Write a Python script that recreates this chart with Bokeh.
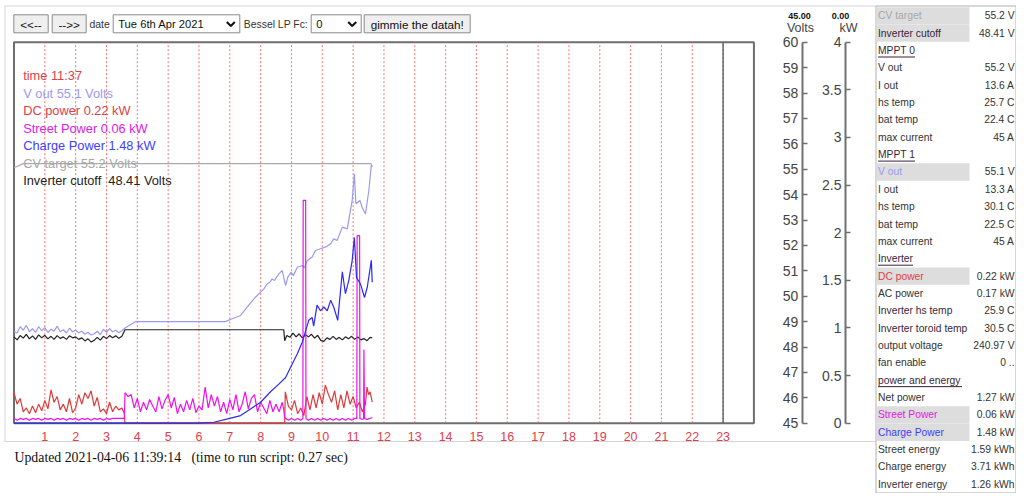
from bokeh.plotting import figure
from bokeh.models import Range1d, LinearAxis, FixedTicker, CustomJSTickFormatter
from bokeh.core.properties import value
from bokeh.embed import file_html
from bokeh.resources import INLINE

# ---------------- data ----------------
HOURS = list(range(1, 24))
VOLT_TICKS = list(range(45, 61))
KW_TICKS = [0, 0.5, 1, 1.5, 2, 2.5, 3, 3.5, 4]
MARKER_HOUR = 23

t_vout = [0.0, 0.1, 0.2, 0.3, 0.4, 0.5, 0.6, 0.7, 0.8, 0.9, 1.0, 1.1, 1.2, 1.3, 1.4, 1.5, 1.6, 1.7,
          1.8, 1.9, 2.0, 2.1, 2.2, 2.3, 2.4, 2.5, 2.6, 2.7, 2.8, 2.9, 3.0, 3.1, 3.2, 3.3, 3.4, 3.5,
          3.6, 3.95, 6.85, 7.08, 7.35, 7.56, 7.83, 8.0, 8.1, 8.21, 8.3, 8.37, 8.45, 8.59, 8.7, 8.81,
          8.88, 8.99, 9.06, 9.19, 9.35, 9.42, 9.51, 9.67, 9.78, 9.94, 10.1, 10.27, 10.37, 10.48,
          10.65, 10.81, 10.97, 11.04, 11.09, 11.22, 11.29, 11.4, 11.51, 11.59, 11.62]
v_out = [48.62, 48.55, 48.80, 48.66, 48.85, 48.60, 48.72, 48.58, 48.80, 48.64, 48.76, 48.57, 48.70,
         48.62, 48.82, 48.60, 48.68, 48.55, 48.74, 48.60, 48.66, 48.56, 48.62, 48.50, 48.58, 48.47,
         48.52, 48.62, 48.48, 48.70, 48.58, 48.72, 48.60, 48.66, 48.56, 48.64, 48.75, 49.0, 49.0,
         49.11, 49.24, 49.57, 49.96, 50.16, 50.28, 50.49, 50.55, 50.68, 50.62, 50.88, 51.01, 50.42,
         50.75, 50.94, 50.81, 51.14, 51.21, 51.12, 51.40, 51.54, 51.80, 51.87, 51.93, 52.06, 52.26,
         52.19, 52.72, 52.65, 53.77, 54.82, 53.64, 53.77, 53.50, 53.24, 54.16, 55.15, 55.10]

t_inv = [0.0, 0.1, 0.2, 0.3, 0.4, 0.5, 0.6, 0.7, 0.8, 0.9, 1.0, 1.1, 1.2, 1.3, 1.4, 1.5, 1.6, 1.7,
         1.8, 1.9, 2.0, 2.1, 2.2, 2.3, 2.4, 2.5, 2.6, 2.7, 2.8, 2.9, 3.0, 3.1, 3.2, 3.3, 3.4, 3.5,
         3.6, 8.75, 8.78, 8.85, 8.95, 9.05, 9.15, 9.25, 9.35, 9.45, 9.55, 9.65, 9.75, 9.85, 9.95,
         10.05, 10.15, 10.25, 10.35, 10.45, 10.55, 10.65, 10.75, 10.85, 10.95, 11.05, 11.15, 11.25,
         11.35, 11.45, 11.55, 11.62]
v_inv = [48.40, 48.28, 48.45, 48.35, 48.50, 48.32, 48.44, 48.30, 48.48, 48.36, 48.46, 48.32, 48.42,
         48.30, 48.45, 48.34, 48.40, 48.30, 48.44, 48.36, 48.40, 48.30, 48.36, 48.24, 48.32, 48.20,
         48.26, 48.38, 48.27, 48.42, 48.33, 48.45, 48.36, 48.44, 48.34, 48.42, 48.68, 48.68, 48.25,
         48.45, 48.38, 48.55, 48.40, 48.52, 48.36, 48.48, 48.40, 48.50, 48.35, 48.46, 48.26, 48.22,
         48.36, 48.30, 48.42, 48.30, 48.38, 48.28, 48.40, 48.32, 48.42, 48.30, 48.40, 48.28, 48.33,
         48.25, 48.38, 48.36]

t_cv = [0.0, 0.3, 11.58, 11.62]
v_cv = [55.06, 55.22, 55.22, 55.10]

t_dc = [0.0, 0.1, 0.2, 0.3, 0.4, 0.5, 0.6, 0.7, 0.8, 0.9, 1.0, 1.1, 1.2, 1.3, 1.4, 1.5, 1.6, 1.7,
        1.8, 1.9, 2.0, 2.1, 2.2, 2.3, 2.4, 2.5, 2.6, 2.7, 2.8, 2.9, 3.0, 3.1, 3.2, 3.3, 3.4, 3.5,
        3.58, 3.6, 8.78, 8.8, 8.9, 9.0, 9.1, 9.2, 9.3, 9.4, 9.5, 9.6, 9.7, 9.8, 9.9, 10.0, 10.1,
        10.2, 10.3, 10.4, 10.5, 10.6, 10.7, 10.8, 10.9, 11.0, 11.1, 11.2, 11.3, 11.4, 11.45, 11.5,
        11.55, 11.62]
kw_dc = [0.32, 0.20, 0.26, 0.12, 0.16, 0.10, 0.18, 0.11, 0.20, 0.13, 0.24, 0.15, 0.35, 0.22, 0.28,
         0.14, 0.20, 0.12, 0.26, 0.11, 0.16, 0.30, 0.20, 0.32, 0.26, 0.34, 0.18, 0.27, 0.12, 0.15,
         0.10, 0.22, 0.12, 0.18, 0.14, 0.16, 0.10, 0.0, 0.0, 0.33, 0.18, 0.14, 0.24, 0.10, 0.16,
         0.08, 0.28, 0.14, 0.30, 0.16, 0.32, 0.20, 0.40, 0.30, 0.22, 0.34, 0.14, 0.30, 0.16, 0.34,
         0.20, 0.28, 0.16, 0.22, 0.12, 0.20, 0.38, 0.30, 0.33, 0.22]

t_street = [0.0, 0.1, 0.2, 0.3, 0.4, 0.5, 0.6, 0.7, 0.8, 0.9, 1.0, 1.1, 1.2, 1.3, 1.4, 1.5, 1.6,
            1.7, 1.8, 1.9, 2.0, 2.1, 2.2, 2.3, 2.4, 2.5, 2.6, 2.7, 2.8, 2.9, 3.0, 3.1, 3.2, 3.3,
            3.4, 3.5, 3.58, 3.6, 3.7, 3.8, 3.9, 4.0, 4.1, 4.2, 4.3, 4.4, 4.5, 4.6, 4.7, 4.8, 4.9,
            5.0, 5.1, 5.2, 5.3, 5.4, 5.5, 5.6, 5.7, 5.8, 5.9, 6.0, 6.1, 6.2, 6.3, 6.4, 6.5, 6.6,
            6.7, 6.8, 6.9, 7.0, 7.1, 7.2, 7.3, 7.4, 7.5, 7.6, 7.7, 7.8, 7.9, 8.0, 8.1, 8.2, 8.3,
            8.4, 8.5, 8.6, 8.7, 8.75, 8.78, 8.9, 9.0, 9.1, 9.2, 9.3, 9.37, 9.38, 9.46, 9.47, 9.55,
            9.65, 9.75, 9.85, 9.95, 10.05, 10.15, 10.25, 10.35, 10.45, 10.55, 10.65, 10.75, 10.85,
            10.95, 11.05, 11.12, 11.13, 11.21, 11.22, 11.3, 11.34, 11.35, 11.37, 11.45, 11.55, 11.62]
kw_street = [0.05, 0.03, 0.05, 0.04, 0.05, 0.03, 0.05, 0.04, 0.05, 0.03, 0.05, 0.04, 0.05, 0.03,
             0.05, 0.04, 0.05, 0.03, 0.05, 0.04, 0.05, 0.03, 0.05, 0.04, 0.05, 0.03, 0.05, 0.04,
             0.05, 0.03, 0.05, 0.04, 0.05, 0.05, 0.05, 0.05, 0.05, 0.32, 0.28, 0.30, 0.16, 0.26,
             0.12, 0.22, 0.14, 0.25, 0.18, 0.12, 0.28, 0.15, 0.24, 0.30, 0.16, 0.27, 0.10, 0.20,
             0.12, 0.24, 0.14, 0.26, 0.11, 0.18, 0.14, 0.38, 0.16, 0.30, 0.18, 0.28, 0.12, 0.22,
             0.10, 0.25, 0.14, 0.30, 0.12, 0.20, 0.33, 0.15, 0.26, 0.30, 0.12, 0.22, 0.16, 0.10,
             0.24, 0.12, 0.20, 0.12, 0.22, 0.14, 0.06, 0.03, 0.05, 0.03, 0.05, 0.03, 0.05, 2.34,
             2.34, 0.05, 0.03, 0.05, 0.03, 0.05, 0.03, 0.05, 0.03, 0.05, 0.03, 0.05, 0.03, 0.05,
             0.03, 0.05, 0.03, 0.05, 0.05, 1.97, 1.97, 0.05, 0.04, 0.05, 0.77, 0.05, 0.04, 0.05, 0.06]

t_charge = [0.0, 6.0, 6.48, 7.0, 7.35, 7.67, 8.0, 8.32, 8.59, 8.81, 9.02, 9.19, 9.35, 9.46, 9.56,
            9.67, 9.72, 9.83, 9.94, 10.05, 10.16, 10.27, 10.37, 10.5, 10.65, 10.75, 10.86, 10.97,
            11.04, 11.11, 11.24, 11.37, 11.46, 11.59, 11.62]
kw_charge = [0.0, 0.0, 0.01, 0.05, 0.08, 0.15, 0.22, 0.33, 0.41, 0.48, 0.62, 0.73, 0.85, 0.97, 1.08,
             1.11, 1.02, 1.24, 1.18, 1.22, 1.18, 1.29, 1.22, 1.08, 1.59, 1.36, 1.50, 1.71, 1.95, 1.53,
             1.46, 1.32, 1.43, 1.71, 1.48]

LEGEND_TEXTS = ["time 11:37", "V out 55.1 Volts", "DC power 0.22 kW", "Street Power 0.06 kW",
                "Charge Power 1.48 kW", "CV target 55.2 Volts", "Inverter cutoff\u00a0 48.41 Volts"]

VOLT_HEADER = ["45.00", "Volts"]
KW_HEADER = ["0.00", "kW"]

TABLE_LABELS = ["CV target", "Inverter cutoff", "MPPT 0", "V out", "I out", "hs temp", "bat temp",
                "max current", "MPPT 1", "V out", "I out", "hs temp", "bat temp", "max current",
                "Inverter", "DC power", "AC power", "Inverter hs temp", "Inverter toroid temp",
                "output voltage", "fan enable", "power and energy", "Net power", "Street Power",
                "Charge Power", "Street energy", "Charge energy", "Inverter energy"]
TABLE_VALUES = ["55.2 V", "48.41 V", "", "55.2 V", "13.6 A", "25.7 C", "22.4 C", "45 A", "",
                "55.1 V", "13.3 A", "30.1 C", "22.5 C", "45 A", "", "0.22 kW", "0.17 kW", "25.9 C",
                "30.5 C", "240.97 V", "0 ..", "", "1.27 kW", "0.06 kW", "1.48 kW", "1.59 kWh",
                "3.71 kWh", "1.26 kWh"]
TABLE_HIGHLIGHT = {0: "#a8a8a8", 1: "#3a1f3a", 9: "#9a9af5", 15: "#e0404a",
                   23: "#e020e0", 24: "#4040ff"}
TABLE_HEADERS = {2: 37, 8: 37, 14: 35, 21: 84}
TABLE_PURPLE = [17, 18]

BUTTONS = ["<<--", "-->>", "gimmie the datah!"]
SELECTS = ["Tue 6th Apr 2021", "0"]
FORM_LABELS = ["date", "Bessel LP Fc:"]
FOOTER = "Updated 2021-04-06 11:39:14 \u00a0 (time to run script: 0.27 sec)"

# ---------------- geometry / style ----------------
W, H = 1016, 493
ORIGIN = 0          # screen position of the figure's top-left corner (as observed)
X0_PX, PX_PER_H = 13.5, 30.83
Y45_PX, PX_PER_V = 422.7, 25.4
V_PER_KW = 3.75
FONT = value("Liberation Sans")


def h_at(px):
    return (px - X0_PX) / PX_PER_H


def v_at(py):
    return 45 + (Y45_PX - py) / PX_PER_V


v_lo, v_hi = v_at(ORIGIN + H), v_at(ORIGIN)
p = figure(width=W, height=H, x_range=Range1d(h_at(ORIGIN), h_at(ORIGIN + W)),
           y_range=Range1d(v_lo, v_hi), output_backend="svg", toolbar_location=None,
           x_axis_type=None, y_axis_type=None, min_border=0)
p.min_border_left = p.min_border_right = p.min_border_top = p.min_border_bottom = 0
p.outline_line_color = None
p.background_fill_color = "white"
p.border_fill_color = "white"
p.extra_y_ranges = {"kw": Range1d((v_lo - 45) / V_PER_KW, (v_hi - 45) / V_PER_KW),
                    "py": Range1d(ORIGIN + H, ORIGIN)}
p.extra_x_ranges = {"px": Range1d(ORIGIN, ORIGIN + W)}
PX = dict(x_range_name="px", y_range_name="py")


def txt(x, y, s, color="#222", size="11px", align="left", font=FONT, style="normal"):
    p.text(x=[x], y=[y], text=[s], text_color=color, text_font_size=size, text_align=align,
           text_baseline="middle", text_font=font, text_font_style=style, **PX)


# outer page frame
p.segment(x0=[4.5, 4, 4], y0=[5, 5.5, 441], x1=[4.5, 875, 875], y1=[441, 5.5, 441],
          line_color="#d4d4d4", line_width=1, **PX)

# ---- controls row ----
btn_boxes = [(13.3, 47.7), (51.7, 85.7), (363.7, 469.7)]
for (l, r), s in zip(btn_boxes, BUTTONS):
    p.quad(left=[l], right=[r], top=[14.3], bottom=[32.3], fill_color="#efefef",
           line_color="#8a8a8a", line_width=1, **PX)
    txt((l + r) / 2, 23.5, s, color="#111", size="11.7px", align="center")
sel_boxes = [(112.7, 239.3), (310.7, 360.7)]
for (l, r), s in zip(sel_boxes, SELECTS):
    p.quad(left=[l], right=[r], top=[14.3], bottom=[32.3], fill_color="white",
           line_color="#8a8a8a", line_width=1, **PX)
    txt(l + 5, 23.5, s, color="#111", size="11.2px")
    cx = r - 9
    p.line(x=[cx - 4, cx, cx + 4], y=[21.5, 25.5, 21.5], line_color="#111", line_width=2, **PX)
txt(89, 24, FORM_LABELS[0], color="#333", size="10.4px")
txt(243.3, 24, FORM_LABELS[1], color="#333", size="10.4px")

# ---- chart box ----
p.quad(left=[0], right=[24], bottom=[45], top=[60], fill_color=None, line_color="#6e6e6e",
       line_width=2)
p.segment(x0=HOURS, y0=45, x1=HOURS, y1=60, line_color="#ee5a5a", line_dash="2 2",
          line_width=1, line_alpha=0.85)
p.segment(x0=[MARKER_HOUR], y0=45, x1=[MARKER_HOUR], y1=60, line_color="#666666", line_width=1.5)

# ---- series ----
p.line(t_cv, v_cv, line_color="#aaaaaa", line_width=1.2)
p.line(t_vout, v_out, line_color="#9a9af5", line_width=1.2)
p.line(t_inv, v_inv, line_color="#222222", line_width=1.2)
p.line(t_dc, kw_dc, line_color="#dd3a3a", line_width=1.2, y_range_name="kw")
p.line(t_street, kw_street, line_color="#ee10ee", line_width=1.2, y_range_name="kw")
p.line(t_charge, kw_charge, line_color="#2a2af0", line_width=1.2, y_range_name="kw")

# ---- legend texts ----
LEGEND_COLORS = ["#e0404a", "#9a9af5", "#e0404a", "#e020e0", "#4040ff", "#a8a8a8", "#222222"]
for i, (s, c) in enumerate(zip(LEGEND_TEXTS, LEGEND_COLORS)):
    txt(22.7, 75 + 17.5 * i, s, color=c, size="12.8px")

# ---- axes ----
hx = LinearAxis(fixed_location=45, ticker=FixedTicker(ticks=HOURS))
hx.axis_line_color = None
hx.major_tick_line_color = None
hx.minor_tick_line_color = None
hx.major_label_text_color = "#e0404a"
hx.major_label_text_font_size = "12.5px"
hx.major_label_text_font = "Liberation Sans"
hx.major_label_standoff = 3
p.add_layout(hx, "below")

vax = LinearAxis(fixed_location=h_at(801.7), ticker=FixedTicker(ticks=VOLT_TICKS), bounds=(45, 60))
kax = LinearAxis(fixed_location=h_at(845), y_range_name="kw", ticker=FixedTicker(ticks=KW_TICKS),
                 bounds=(0, 4), formatter=CustomJSTickFormatter(code="return tick.toString()"))
for ax in (vax, kax):
    ax.axis_line_color = "#707070"
    ax.axis_line_width = 2
    ax.major_tick_in = 5
    ax.major_tick_out = 0
    ax.major_tick_line_color = "#707070"
    ax.major_tick_line_width = 1.5
    ax.minor_tick_line_color = None
    ax.major_label_text_color = "#444444"
    ax.major_label_text_font_size = "14px"
    ax.major_label_text_font = "Liberation Sans"
    ax.major_label_standoff = 4
    p.add_layout(ax, "left")

txt(799, 15, VOLT_HEADER[0], color="#111", size="9px", align="center", style="bold")
txt(800, 27.5, VOLT_HEADER[1], color="#444", size="12.5px", align="center")
txt(840, 15, KW_HEADER[0], color="#111", size="9px", align="center", style="bold")
txt(848, 27.5, KW_HEADER[1], color="#444", size="12.5px", align="center")

# ---- right table ----
ROW0, ROWH = 15.3, 17.35
p.quad(left=[875.5], right=[1015.5], top=[5.5], bottom=[492.5], fill_color="white",
       line_color="#b0b0b0", line_width=1, **PX)
for i, (lab, val) in enumerate(zip(TABLE_LABELS, TABLE_VALUES)):
    cy = ROW0 + ROWH * i
    color = "#333333"
    if i in TABLE_HIGHLIGHT:
        p.quad(left=[876], right=[969], top=[cy - ROWH / 2], bottom=[cy + ROWH / 2],
               fill_color="#dddddd", line_color=None, **PX)
        color = TABLE_HIGHLIGHT[i]
    if i in TABLE_HEADERS or i in TABLE_PURPLE:
        color = "#3a1f3a"
    txt(877.5, cy, lab, color=color, size="10.3px")
    if i in TABLE_HEADERS:
        p.segment(x0=[877.5], y0=[cy + 6.5], x1=[877.5 + TABLE_HEADERS[i]], y1=[cy + 6.5],
                  line_color="#3a1f3a", line_width=1, **PX)
    if val:
        txt(1014, cy, val, color="#333333", size="10.3px", align="right")

# ---- footer ----
txt(14, 457, FOOTER, color="#111", size="13.8px", font=value("Liberation Serif"))

open("out.html", "w").write(file_html(p, INLINE))
